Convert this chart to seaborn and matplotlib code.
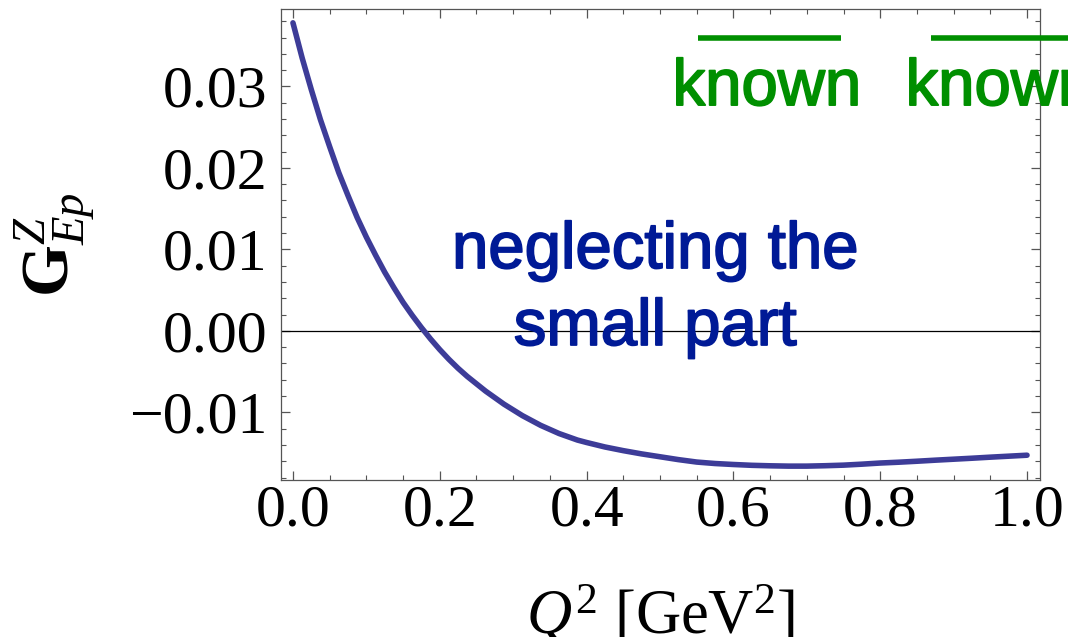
import matplotlib
matplotlib.use("Agg")
import matplotlib.pyplot as plt
import matplotlib.patheffects as pe
import pandas as pd
import seaborn as sns
from matplotlib.ticker import MultipleLocator, FixedLocator, FuncFormatter

# Z-boson electric form factor of the proton versus momentum transfer
q2 = [0.0000, 0.0125, 0.0250, 0.0375, 0.0500, 0.0625, 0.0750, 0.0875,
      0.1000, 0.1125, 0.1250, 0.1375, 0.1500, 0.1625, 0.1750, 0.1875,
      0.2000, 0.2125, 0.2250, 0.2375, 0.2500, 0.2625, 0.2750, 0.2875,
      0.3000, 0.3125, 0.3250, 0.3375, 0.3500, 0.3625, 0.3750, 0.3875,
      0.4000, 0.4250, 0.4500, 0.4750, 0.5000, 0.5250, 0.5500, 0.5750,
      0.6000, 0.6250, 0.6500, 0.6750, 0.7000, 0.7250, 0.7500, 0.7750,
      0.8000, 0.8250, 0.8500, 0.8750, 0.9000, 0.9250, 0.9500, 0.9750,
      1.0000]
g_ep = [0.0378, 0.0335, 0.0296, 0.0259, 0.0226, 0.0194, 0.0166, 0.0139,
        0.0115, 0.0093, 0.0072, 0.0053, 0.0035, 0.0019, 0.0004, -0.0010,
        -0.0023, -0.0035, -0.0046, -0.0056, -0.0065, -0.0074, -0.0082,
        -0.0090, -0.0097, -0.0104, -0.0110, -0.0116, -0.0121, -0.0126,
        -0.0130, -0.0134, -0.0137, -0.01425, -0.0147, -0.0151, -0.01545,
        -0.0158, -0.0161, -0.01628, -0.0164, -0.0165, -0.01656, -0.0166,
        -0.0166, -0.01655, -0.01648, -0.01636, -0.01622, -0.01612,
        -0.0160, -0.01587, -0.01575, -0.01563, -0.0155, -0.01538, -0.01526]

x_ticks = [0.0, 0.2, 0.4, 0.6, 0.8, 1.0]
y_ticks = [-0.01, 0.00, 0.01, 0.02, 0.03]
legend_labels = ["known", "known"]
note_lines = ["neglecting the", "small part"]

df = pd.DataFrame({"Q2": q2, "G": g_ep})

sns.set_theme(style="ticks")
plt.rcParams["font.family"] = ["Liberation Serif", "DejaVu Serif"]
plt.rcParams["mathtext.fontset"] = "custom"
plt.rcParams["mathtext.rm"] = "Liberation Serif"
plt.rcParams["mathtext.it"] = "Liberation Serif:italic"
plt.rcParams["mathtext.bf"] = "Liberation Serif:bold"

curve_color = "#3d3c98"
note_color = "#001a96"
legend_color = "#008f00"
frame_color = "#555555"

fig = plt.figure(figsize=(10.68, 6.37), dpi=100)
ax = fig.add_axes([0.2631, 0.2465, 0.7107, 0.7394])

ax.axhline(0, color="black", lw=0.9, zorder=1)
sns.lineplot(data=df, x="Q2", y="G", color=curve_color, lw=4.0, ax=ax,
             zorder=3)

ax.set_xlim(-0.0163, 1.0177)
ax.set_ylim(-0.0183, 0.0395)


def fmt(dec):
    return FuncFormatter(lambda v, _: f"{v:.{dec}f}".replace("-", "\u2212"))


ax.xaxis.set_major_locator(FixedLocator(x_ticks))
ax.xaxis.set_minor_locator(MultipleLocator(0.05))
ax.yaxis.set_major_locator(FixedLocator(y_ticks))
ax.yaxis.set_minor_locator(MultipleLocator(0.002))
ax.xaxis.set_major_formatter(fmt(1))
ax.yaxis.set_major_formatter(fmt(2))

ax.tick_params(which="both", direction="in", top=True, right=True,
               color=frame_color, labelcolor="black", labelsize=43)
ax.tick_params(which="major", length=6.5, width=0.9)
ax.tick_params(which="minor", length=3.8, width=0.8)
ax.tick_params(axis="x", which="major", pad=3)
ax.tick_params(axis="y", which="major", pad=10)

for sp in ax.spines.values():
    sp.set_color(frame_color)
    sp.set_linewidth(0.9)

ax.set_xlabel(r"$Q^2$ [GeV$^2$]", fontsize=45, va="top", color="black")
ax.xaxis.set_label_coords(0.5, -0.222)
ax.set_ylabel(r"$\mathbf{G}^{Z}_{Ep}$", fontsize=48, va="center",
              color="black")
ax.yaxis.set_label_coords(-0.298, 0.5)

# slightly heavier sans-serif lettering for the in-plot labels
sans = ["Liberation Sans", "DejaVu Sans"]


def heavy(color):
    return [pe.Stroke(linewidth=1.3, foreground=color), pe.Normal()]


# annotation inside the frame
ax.text(0.4928, 0.450, note_lines[0], transform=ax.transAxes, ha="center",
        va="baseline", fontsize=47, color=note_color, family=sans,
        path_effects=heavy(note_color))
ax.text(0.4928, 0.2866, note_lines[1], transform=ax.transAxes, ha="center",
        va="baseline", fontsize=47, color=note_color, family=sans,
        path_effects=heavy(note_color))

# legend entries running off the right edge
legend_x = [(0.549, 0.738), (0.856, 1.10)]
for (x0, x1), lab in zip(legend_x, legend_labels):
    ax.plot([x0, x1], [0.938, 0.938], transform=ax.transAxes,
            color=legend_color, lw=4.0, solid_capstyle="butt",
            clip_on=False, zorder=4)
    ax.text(x0 + 0.091, 0.796, lab, transform=ax.transAxes,
            ha="center", va="baseline", fontsize=47, color=legend_color,
            family=sans, clip_on=False, path_effects=heavy(legend_color))

fig.savefig("out.png", dpi=100)
